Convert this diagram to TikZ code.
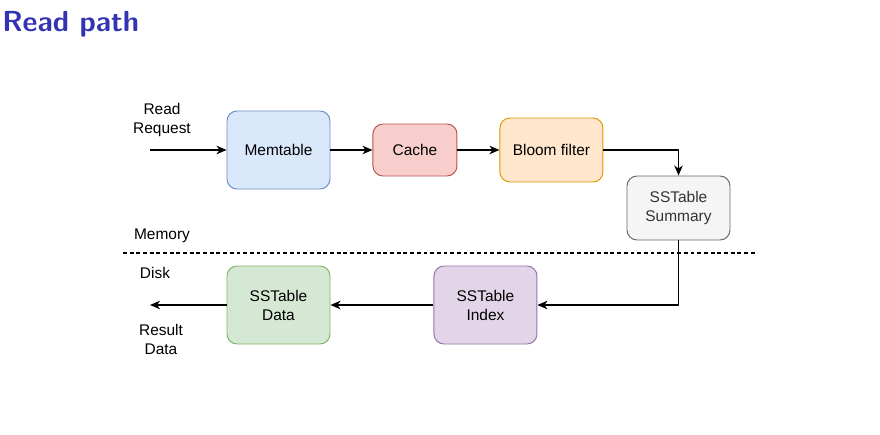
\documentclass[tikz,border=0pt]{standalone}
\usepackage{fontspec}
\newfontfamily\drawiofont{Liberation Sans}
\usetikzlibrary{arrows.meta,positioning}
\definecolor{titleblue}{RGB}{51,51,179}
\definecolor{memfill}{HTML}{DAE8FC}\definecolor{memline}{HTML}{6C8EBF}
\definecolor{cachefill}{HTML}{F8CECC}\definecolor{cacheline}{HTML}{B85450}
\definecolor{bloomfill}{HTML}{FFE6CC}\definecolor{bloomline}{HTML}{D79B00}
\definecolor{sumfill}{HTML}{F5F5F5}\definecolor{sumline}{HTML}{666666}
\definecolor{idxfill}{HTML}{E1D5E7}\definecolor{idxline}{HTML}{9673A6}
\definecolor{datafill}{HTML}{D5E8D4}\definecolor{dataline}{HTML}{82B366}

\begin{document}
\begin{tikzpicture}[
>={Stealth[length=2mm,width=1.7mm,inset=0.6mm]},
line join=round,
every node/.style={font=\drawiofont\fontsize{8.8}{10.8}\selectfont},
box/.style={rectangle,draw,rounded corners=2mm,line width=0.55pt,align=center,
  minimum width=20.6mm,minimum height=15.6mm,inner sep=0pt},
flatbox/.style={box,minimum height=12.8mm},
note/.style={align=center,inner sep=0pt},
arr/.style={->,line width=0.75pt},
node distance=8.4mm
]
\useasboundingbox (0,0) rectangle (17.6,8.68);

\node [anchor=base west,inner sep=0pt,text=titleblue,
  font=\sffamily\bfseries\fontsize{16.5}{20}\selectfont] (title) at (0.04,8.06) {Read path};

% memory side
\node [box,fill=memfill,draw=memline]                  (memtable) at (5.57,5.68) {Memtable};
\node [flatbox,fill=cachefill,draw=cacheline,minimum width=16.8mm,minimum height=10.4mm,
  right=of memtable]                                   (cache)    {Cache};
\node [flatbox,fill=bloomfill,draw=bloomline,right=of cache] (bloom) {Bloom filter};
\node [flatbox,fill=sumfill,draw=sumline,text=black!80] (summary) at (13.57,4.52) {SSTable\\Summary};

% disk side
\node [box,fill=datafill,draw=dataline]                (data)     at (5.57,2.58) {SSTable\\Data};
\node [box,fill=idxfill,draw=idxline,right=20.6mm of data] (index) {SSTable\\Index};

\node [note] (request) at (3.24,6.28) {Read\\Request};
\node [note] (memory)  at (3.24,3.96) {Memory};
\node [note] (disk)    at (3.10,3.22) {Disk};
\node [note] (result)  at (3.22,1.90) {Result\\Data};

\coordinate (in)  at (3.0,5.68);
\coordinate (out) at (3.0,2.58);
\coordinate (split west) at (2.46,3.62);
\coordinate (split east) at (15.10,3.62);

\draw [line width=0.6pt,dash pattern=on 2.2pt off 1.6pt] (split west) -- (split east);

\draw [arr] (in)       -- (memtable);
\draw [arr] (memtable) -- (cache);
\draw [arr] (cache)    -- (bloom);
\draw [arr] (bloom)    -| (summary);
\draw [arr] (summary)  |- (index);
\draw [arr] (index)    -- (data);
\draw [arr] (data)     -- (out);
\end{tikzpicture}
\end{document}
